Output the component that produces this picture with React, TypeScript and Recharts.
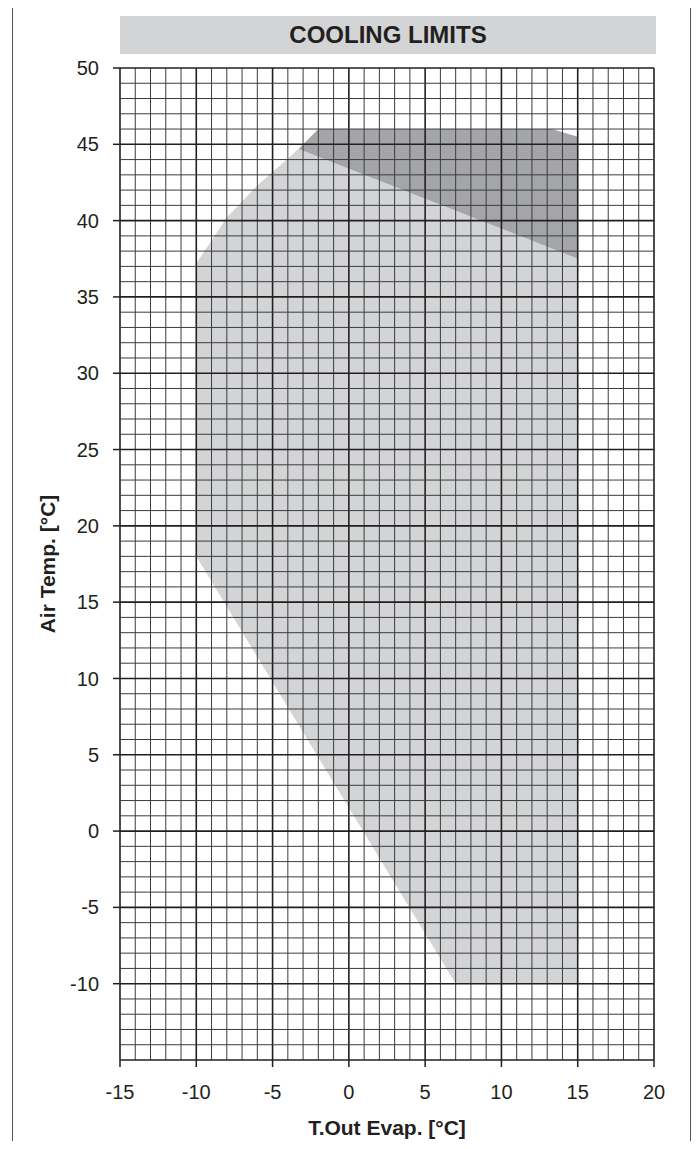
import { ComposedChart, Scatter, XAxis, YAxis, ReferenceLine, Label } from "recharts";

// envelope outlines (T.Out Evap. °C / Air Temp. °C)
const lightX = [-10, -10, -8, -6, -3.3, 15, 15, 7];
const lightY = [18, 37.2, 40.2, 42.3, 44.7, 37.5, -10, -10];
const darkX = [-2, 13.3, 15, 15, -3.3];
const darkY = [46, 46, 45.5, 37.5, 44.7];

const xTicks = [-15, -10, -5, 0, 5, 10, 15, 20];
const yTicks = [-10, -5, 0, 5, 10, 15, 20, 25, 30, 35, 40, 45, 50];

const lightZone = lightX.map((x, i) => ({ x, y: lightY[i] }));
const darkZone = darkX.map((x, i) => ({ x, y: darkY[i] }));

// one grid line per degree
const gridX: number[] = [];
for (let v = -15; v <= 20; v++) gridX.push(v);
const gridY: number[] = [];
for (let v = -15; v <= 50; v++) gridY.push(v);

const LIGHT = "#d3d4d6";
const DARK = "#a4a5a8";
const INK = "#231f20";
const MINOR = "#3c3c3c";
const FONT = "'Liberation Sans', Arial, Helvetica, sans-serif";

const noDot = () => <g />;

export default function App() {
  return (
    <div style={{ position: "relative", width: 700, height: 1149, margin: -8, overflow: "hidden", background: "#fff", fontFamily: FONT }}>
      <div
        style={{
          position: "absolute",
          left: 12,
          top: 2,
          width: 679,
          height: 1200,
          borderLeft: "1.5px solid #555",
          borderTop: "1.5px solid #555",
          borderRight: "1.5px solid #555",
          boxSizing: "border-box",
        }}
      />
      <div
        style={{
          position: "absolute",
          left: 120,
          top: 16,
          width: 536,
          height: 38,
          background: LIGHT,
          display: "flex",
          alignItems: "center",
          justifyContent: "center",
          fontWeight: "bold",
          fontSize: 24,
          color: INK,
        }}
      >
        COOLING LIMITS
      </div>
      <div style={{ position: "absolute", left: 0, top: 0 }}>
        <ComposedChart width={700} height={1149} margin={{ top: 68, right: 46, bottom: 49, left: 0 }}>
          <XAxis
            dataKey="x"
            type="number"
            domain={[-15, 20]}
            ticks={xTicks}
            interval={0}
            allowDataOverflow
            axisLine={false}
            tickSize={7}
            tickMargin={18}
            tickLine={{ stroke: INK, strokeWidth: 1.5 }}
            tick={{ fill: INK, fontSize: 20, fontFamily: FONT }}
            height={40}
          >
            <Label
              value="T.Out Evap. [°C]"
              position="bottom"
              offset={20}
              style={{ fill: INK, fontSize: 21, fontWeight: "bold", fontFamily: FONT }}
            />
          </XAxis>
          <YAxis
            dataKey="y"
            type="number"
            domain={[-15, 50]}
            ticks={yTicks}
            interval={0}
            allowDataOverflow
            axisLine={false}
            tickSize={7}
            tickMargin={14}
            tickLine={{ stroke: INK, strokeWidth: 1.5 }}
            tick={{ fill: INK, fontSize: 20, fontFamily: FONT }}
            width={120}
          >
            <Label
              content={(props: any) => {
                const vb = props.viewBox || { x: 0, y: 0, width: 0, height: 0 };
                const cx = vb.x + 55;
                const cy = vb.y + vb.height / 2;
                return (
                  <text
                    x={cx}
                    y={cy}
                    transform={`rotate(-90, ${cx}, ${cy})`}
                    textAnchor="middle"
                    fill={INK}
                    fontSize={21}
                    fontWeight="bold"
                    fontFamily={FONT}
                  >
                    Air Temp. [°C]
                  </text>
                );
              }}
            />
          </YAxis>
          <Scatter
            data={lightZone}
            fill={LIGHT}
            line={{ fill: LIGHT, stroke: "none" }}
            shape={noDot}
            zIndex={100}
            isAnimationActive={false}
          />
          <Scatter
            data={darkZone}
            fill={DARK}
            line={{ fill: DARK, stroke: "none" }}
            shape={noDot}
            zIndex={101}
            isAnimationActive={false}
          />
          {gridX.map((v) => (
            <ReferenceLine
              key={"gx" + v}
              x={v}
              stroke={v % 5 === 0 ? INK : MINOR}
              strokeWidth={v % 5 === 0 ? 1.6 : 1}
              ifOverflow="visible"
              zIndex={1500}
            />
          ))}
          {gridY.map((v) => (
            <ReferenceLine
              key={"gy" + v}
              y={v}
              stroke={v % 5 === 0 ? INK : MINOR}
              strokeWidth={v % 5 === 0 ? 1.6 : 1}
              ifOverflow="visible"
              zIndex={1500}
            />
          ))}
        </ComposedChart>
      </div>
    </div>
  );
}
